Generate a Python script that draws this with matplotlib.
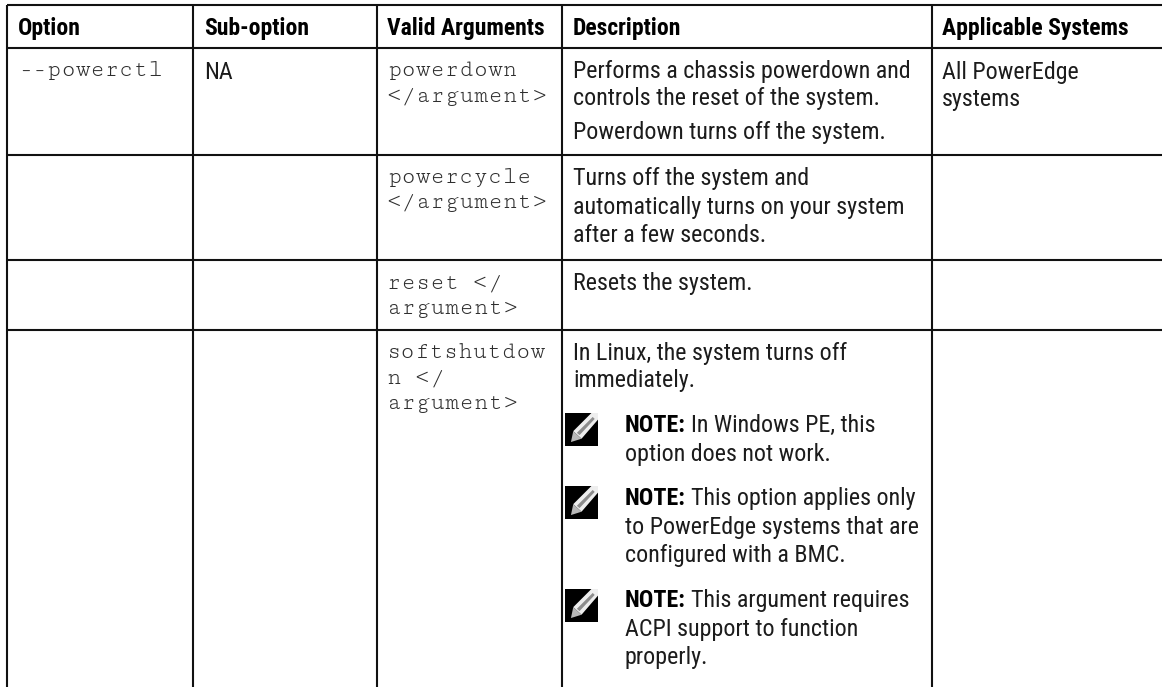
"""Dell command reference table, redrawn as text and rules in pixel coordinates."""

import matplotlib
matplotlib.use("Agg")
import matplotlib.pyplot as plt
from matplotlib.patches import Polygon, Rectangle

W, H = 1162, 687

SANS = ["Roboto Condensed", "Liberation Sans Narrow", "Roboto", "DejaVu Sans"]
MONO = ["Cutive Mono", "Liberation Mono", "DejaVu Sans Mono"]

# ---------------------------------------------------------------------------
# Table content
# ---------------------------------------------------------------------------

headers = ["Option", "Sub-option", "Valid Arguments", "Description", "Applicable Systems"]
option_lines = ["--powerctl"]
suboption_lines = ["NA"]
systems_lines = ["All PowerEdge", "systems"]
argument_rows = [
    ["powerdown", "</argument>"],
    ["powercycle", "</argument>"],
    ["reset </", "argument>"],
    ["softshutdow", "n </", "argument>"],
]
description_1 = ["Performs a chassis powerdown and", "controls the reset of the system."]
description_2 = ["Powerdown turns off the system."]
description_3 = ["Turns off the system and", "automatically turns on your system", "after a few seconds."]
description_4 = ["Resets the system."]
description_5 = ["In Linux, the system turns off", "immediately."]
notes = [
    ["In Windows PE, this", "option does not work."],
    ["This option applies only", "to PowerEdge systems that are", "configured with a BMC."],
    ["This argument requires", "ACPI support to function", "properly."],
]

# ---------------------------------------------------------------------------
# Layout (pixels)
# ---------------------------------------------------------------------------

col_x = [7, 193, 377, 562, 932]
row_y = [5, 48, 155, 260, 330]
col_text = [18, 204, 387, 573, 942]
LINE = 28.6
MONO_STEP = 25.5
BODY = 17.3
HEAD = 17.0
MONO_SIZE = 17.2
INK = "#1c1c1c"
MONO_INK = "#2e2e2e"

fig = plt.figure(figsize=(W / 100, H / 100), dpi=100)
ax = fig.add_axes([0, 0, 1, 1])
ax.set_xlim(0, W)
ax.set_ylim(H, 0)
ax.axis("off")


def put(x, y, s, family=SANS, size=BODY, weight="normal", color=INK):
    return ax.text(x, y, s, family=family, fontsize=size, fontweight=weight,
                   color=color, va="baseline", ha="left")


def put_lines(x, y, lines, step=LINE, **kw):
    for i, s in enumerate(lines):
        put(x, y + i * step, s, **kw)


def scaled(shape, x, y, size):
    return [(x + a * size, y + b * size) for a, b in shape]


def pencil_icon(x, y, size=33):
    ax.add_patch(Rectangle((x, y), size, size, fc="black", ec="none"))
    # white pencil running from the lower left tip to the upper right corner
    body = [(0.25, 0.55), (0.80, 0.0), (1.0, 0.0), (1.0, 0.2), (0.50, 0.78)]
    tip = [(0.18, 0.88), (0.25, 0.55), (0.50, 0.78)]
    core = [(0.36, 0.60), (0.84, 0.12), (0.90, 0.18), (0.44, 0.67)]
    ax.add_patch(Polygon(scaled(body, x, y, size), closed=True, fc="#eeeeee", ec="none"))
    ax.add_patch(Polygon(scaled(tip, x, y, size), closed=True, fc="#b8b8b8", ec="none"))
    ax.add_patch(Polygon(scaled(core, x, y, size), closed=True, fc="#8c8c8c", ec="none"))


# rules
for x in col_x:
    ax.plot([x, x], [row_y[0], H], color="#111111", lw=1.5, solid_capstyle="butt")
for y in row_y:
    ax.plot([col_x[0], W], [y, y], color="#111111", lw=1.5, solid_capstyle="butt")

# header
for x, s in zip(col_text, headers):
    put(x, 35, s, size=HEAD, weight="bold", color="black")

# first row
put_lines(col_text[0], 76, option_lines, family=MONO, size=MONO_SIZE, color=MONO_INK)
put(col_text[1], 79, suboption_lines[0])
put_lines(col_text[4], 79, systems_lines, step=27)

# arguments
for y, lines in zip([76, 183, 288, 358], argument_rows):
    put_lines(col_text[2], y, lines, step=MONO_STEP, family=MONO, size=MONO_SIZE, color=MONO_INK)

# descriptions
put_lines(col_text[3], 78, description_1, step=26.5)
put_lines(col_text[3], 139, description_2)
put_lines(col_text[3], 185, description_3)
put_lines(col_text[3], 290, description_4)
put_lines(col_text[3], 360, description_5, step=27.5)

# notes
renderer = fig.canvas.get_renderer()
note_y = [432, 505, 607]
icon_y = [413, 486, 589]
for y, icon, lines in zip(note_y, icon_y, notes):
    t = put(625, y, "NOTE:", weight="bold", color="black")
    x1 = ax.transData.inverted().transform(t.get_window_extent(renderer))[1][0]
    put(x1 + 5, y, lines[0])
    put_lines(625, y + LINE, lines[1:])
    pencil_icon(565, icon)

fig.savefig("out.png", dpi=100)
